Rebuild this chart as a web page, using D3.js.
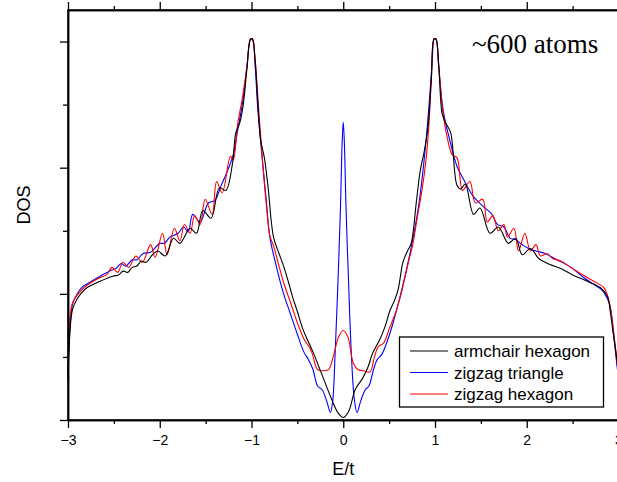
<!DOCTYPE html>
<html>
<head>
<meta charset="utf-8">
<script src="https://cdn.jsdelivr.net/npm/d3@7"></script>
<style>
  body { margin: 0; background: #fff; }
  svg text { font-family: "Liberation Sans", Arial, sans-serif; }
</style>
</head>
<body>
<svg id="chart" width="617" height="482"></svg>
<script>
// E/t, DOS pairs
const armchair = [
  [-3.00,0.32],[-2.98,0.68],[-2.95,0.88],[-2.90,0.96],[-2.85,1.01],[-2.79,1.05],
  [-2.65,1.10],[-2.51,1.14],[-2.45,1.15],[-2.40,1.18],[-2.35,1.17],[-2.30,1.21],
  [-2.25,1.22],[-2.20,1.26],[-2.15,1.25],[-2.08,1.31],[-2.02,1.34],[-1.94,1.30],
  [-1.85,1.44],[-1.78,1.40],[-1.67,1.52],[-1.60,1.48],[-1.53,1.66],[-1.44,1.60],
  [-1.35,1.84],[-1.28,1.82],[-1.21,2.02],[-1.17,2.28],[-1.13,2.35],[-1.09,2.50],
  [-1.05,2.78],[-1.01,3.02],[-0.99,3.02],[-0.96,2.85],[-0.93,2.50],[-0.90,2.22],
  [-0.86,2.08],[-0.82,1.85],[-0.76,1.45],[-0.70,1.32],[-0.65,1.22],[-0.60,1.10],
  [-0.55,0.97],[-0.50,0.86],[-0.44,0.72],[-0.38,0.62],[-0.33,0.54],[-0.27,0.43],
  [-0.20,0.30],[-0.13,0.17],[-0.06,0.06],[0.00,0.02],[0.06,0.07],[0.13,0.24],
  [0.21,0.33],[0.27,0.42],[0.32,0.53],[0.40,0.64],[0.46,0.75],[0.51,0.87],
  [0.56,0.95],[0.60,1.04],[0.65,1.25],[0.70,1.34],[0.74,1.40],[0.80,1.75],
  [0.84,1.98],[0.88,2.12],[0.92,2.30],[0.96,2.70],[0.99,3.02],[1.01,3.02],
  [1.04,2.82],[1.08,2.42],[1.12,2.35],[1.17,2.28],[1.24,1.86],[1.28,1.83],
  [1.33,1.87],[1.42,1.63],[1.49,1.68],[1.60,1.48],[1.69,1.53],[1.80,1.40],
  [1.88,1.44],[1.95,1.31],[2.04,1.36],[2.13,1.28],[2.20,1.25],[2.26,1.23],
  [2.37,1.20],[2.50,1.15],[2.66,1.10],[2.80,1.05],[2.88,0.98],[2.91,0.86],
  [2.94,0.70],[2.97,0.55],[3.00,0.35]
];
const triangle = [
  [-3.00,0.34],[-2.98,0.72],[-2.95,0.92],[-2.90,1.00],[-2.85,1.05],[-2.79,1.08],
  [-2.65,1.14],[-2.55,1.18],[-2.48,1.20],[-2.42,1.24],[-2.37,1.22],[-2.30,1.27],
  [-2.25,1.27],[-2.18,1.32],[-2.10,1.33],[-2.00,1.40],[-1.95,1.40],[-1.89,1.45],
  [-1.80,1.48],[-1.74,1.53],[-1.69,1.49],[-1.64,1.63],[-1.56,1.57],[-1.47,1.72],
  [-1.40,1.74],[-1.33,1.86],[-1.27,1.96],[-1.20,2.10],[-1.15,2.30],[-1.09,2.55],
  [-1.05,2.80],[-1.01,3.02],[-0.99,3.02],[-0.96,2.80],[-0.93,2.45],[-0.88,2.05],
  [-0.84,1.75],[-0.80,1.45],[-0.73,1.22],[-0.65,1.00],[-0.58,0.85],[-0.50,0.68],
  [-0.43,0.54],[-0.38,0.48],[-0.33,0.40],[-0.28,0.27],[-0.23,0.24],[-0.18,0.15],
  [-0.14,0.06],[-0.115,0.15],[-0.09,0.50],[-0.06,1.05],[-0.03,1.69],[-0.012,2.20],
  [0.00,2.36],[0.012,2.20],[0.03,1.69],[0.06,1.05],[0.09,0.50],[0.12,0.17],
  [0.15,0.06],[0.19,0.15],[0.24,0.24],[0.28,0.27],[0.33,0.40],[0.37,0.48],
  [0.42,0.52],[0.51,0.69],[0.62,0.98],[0.73,1.33],[0.82,1.69],[0.88,2.05],
  [0.93,2.45],[0.97,2.85],[0.99,3.02],[1.01,3.02],[1.04,2.80],[1.09,2.45],
  [1.15,2.25],[1.24,2.01],[1.31,1.91],[1.42,1.77],[1.53,1.69],[1.62,1.63],
  [1.68,1.55],[1.75,1.53],[1.82,1.44],[1.88,1.43],[1.93,1.40],[2.02,1.36],
  [2.10,1.34],[2.20,1.32],[2.33,1.27],[2.48,1.21],[2.62,1.13],[2.72,1.08],
  [2.82,1.03],[2.88,0.96],[2.91,0.90],[2.94,0.72],[2.97,0.52],[3.00,0.33]
];
const hexagon = [
  [-3.00,0.33],[-2.98,0.80],[-2.95,0.93],[-2.90,0.99],[-2.79,1.07],[-2.65,1.13],
  [-2.58,1.15],[-2.52,1.21],[-2.46,1.17],[-2.40,1.25],[-2.34,1.21],[-2.26,1.30],
  [-2.19,1.25],[-2.10,1.39],[-2.05,1.29],[-1.97,1.48],[-1.92,1.31],[-1.84,1.52],
  [-1.78,1.42],[-1.73,1.55],[-1.67,1.48],[-1.62,1.62],[-1.56,1.55],[-1.505,1.75],
  [-1.43,1.63],[-1.38,1.89],[-1.32,1.80],[-1.23,2.09],[-1.20,2.06],[-1.15,2.35],
  [-1.10,2.55],[-1.05,2.80],[-1.01,3.02],[-0.99,3.02],[-0.96,2.85],[-0.92,2.45],
  [-0.88,2.05],[-0.84,1.72],[-0.80,1.46],[-0.76,1.38],[-0.70,1.22],[-0.65,1.09],
  [-0.56,0.90],[-0.49,0.75],[-0.42,0.63],[-0.38,0.59],[-0.34,0.53],[-0.28,0.40],
  [-0.22,0.39],[-0.16,0.40],[-0.11,0.50],[-0.05,0.66],[0.00,0.71],[0.05,0.66],
  [0.11,0.45],[0.16,0.40],[0.22,0.39],[0.29,0.38],[0.34,0.50],[0.38,0.58],
  [0.44,0.61],[0.50,0.72],[0.57,0.85],[0.62,0.97],[0.66,1.09],[0.71,1.25],
  [0.76,1.40],[0.81,1.62],[0.86,1.83],[0.90,2.05],[0.93,2.30],[0.96,2.70],
  [0.99,3.02],[1.01,3.02],[1.04,2.82],[1.08,2.48],[1.13,2.25],[1.19,2.10],
  [1.24,2.08],[1.30,1.82],[1.38,1.89],[1.44,1.72],[1.52,1.75],[1.57,1.57],
  [1.63,1.62],[1.69,1.50],[1.75,1.55],[1.79,1.45],[1.86,1.52],[1.91,1.34],
  [1.98,1.48],[2.04,1.34],[2.10,1.39],[2.15,1.30],[2.22,1.32],[2.28,1.28],
  [2.37,1.26],[2.48,1.21],[2.59,1.16],[2.73,1.10],[2.84,1.05],[2.89,0.96],
  [2.93,0.80],[2.97,0.55],[3.00,0.36]
];

const seriesNames = ["armchair hexagon", "zigzag triangle", "zigzag hexagon"];
const seriesData = [armchair, triangle, hexagon];
const seriesColors = ["#000000", "#0000ff", "#ff0000"];

const xMajor = [-3, -2, -1, 0, 1, 2, 3];
const xMinor = [-2.5, -1.5, -0.5, 0.5, 1.5, 2.5];
const yMajor = [0, 1, 2, 3];
const yMinor = [0.5, 1.5, 2.5];

const svg = d3.select("#chart");

const plotLeft = 68, plotRight = 618.5, plotTop = 10, plotBottom = 420;

const x = d3.scaleLinear().domain([-3, 3]).range([plotLeft, plotRight]);
const y = d3.scaleLinear().domain([0, 3.25]).range([plotBottom, plotTop]);

// curves (drawn blue, red, black so black sits on top)
const line = d3.line()
  .x(d => x(d[0]))
  .y(d => y(d[1]))
  .curve(d3.curveCatmullRom.alpha(0.5));

[1, 2, 0].forEach(i => {
  svg.append("path")
    .datum(seriesData[i])
    .attr("fill", "none")
    .attr("stroke", seriesColors[i])
    .attr("stroke-width", 1.1)
    .attr("d", line);
});

// bottom axis
const bottomAxis = svg.append("g")
  .attr("transform", "translate(0," + plotBottom + ")")
  .call(d3.axisBottom(x).tickValues(xMajor).tickSize(8).tickPadding(7)
    .tickSizeOuter(0).tickFormat(d3.format("d")));
bottomAxis.selectAll("text").attr("font-size", 14).attr("fill", "#000");
svg.append("g")
  .attr("transform", "translate(0," + plotBottom + ")")
  .call(d3.axisBottom(x).tickValues(xMinor).tickSize(4).tickSizeOuter(0).tickFormat(""));

// top axis
svg.append("g")
  .attr("transform", "translate(0," + plotTop + ")")
  .call(d3.axisTop(x).tickValues(xMajor).tickSize(8).tickSizeOuter(0).tickFormat(""));
svg.append("g")
  .attr("transform", "translate(0," + plotTop + ")")
  .call(d3.axisTop(x).tickValues(xMinor).tickSize(4).tickSizeOuter(0).tickFormat(""));

// left axis, no labels
svg.append("g")
  .attr("transform", "translate(" + plotLeft + ",0)")
  .call(d3.axisLeft(y).tickValues(yMajor).tickSize(8).tickSizeOuter(0).tickFormat(""));
svg.append("g")
  .attr("transform", "translate(" + plotLeft + ",0)")
  .call(d3.axisLeft(y).tickValues(yMinor).tickSize(5).tickSizeOuter(0).tickFormat(""));

svg.selectAll(".domain").attr("stroke", "#000").attr("stroke-width", 1.5);
svg.selectAll(".tick line").attr("stroke", "#000").attr("stroke-width", 1.3);

// frame
svg.append("rect")
  .attr("x", plotLeft).attr("y", plotTop)
  .attr("width", plotRight - plotLeft).attr("height", plotBottom - plotTop)
  .attr("fill", "none").attr("stroke", "#000").attr("stroke-width", 1.5);

// axis titles
svg.append("text")
  .attr("x", x(0)).attr("y", 475)
  .attr("text-anchor", "middle")
  .attr("font-size", 18)
  .text("E/t");

svg.append("text")
  .attr("transform", "translate(30,205) rotate(-90)")
  .attr("text-anchor", "middle")
  .attr("font-size", 18)
  .text("DOS");

// annotation
svg.append("text")
  .attr("x", 472).attr("y", 53)
  .style("font-family", "'Liberation Serif', 'Times New Roman', serif")
  .attr("font-size", 27)
  .text("~600 atoms");

// legend
const legend = svg.append("g");
legend.append("rect")
  .attr("x", 399.5).attr("y", 337)
  .attr("width", 204).attr("height", 70)
  .attr("fill", "#fff").attr("stroke", "#000").attr("stroke-width", 1.3);

seriesNames.forEach((name, i) => {
  const ly = 351 + i * 21.5;
  legend.append("line")
    .attr("x1", 410).attr("x2", 448)
    .attr("y1", ly).attr("y2", ly)
    .attr("stroke", seriesColors[i]).attr("stroke-width", 1.1);
  legend.append("text")
    .attr("x", 454).attr("y", ly + 6)
    .attr("font-size", 17)
    .text(name);
});
</script>
</body>
</html>
